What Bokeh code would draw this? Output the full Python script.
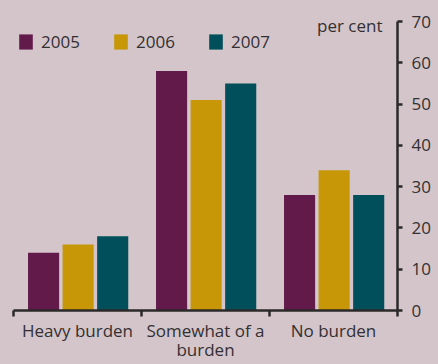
import numpy as np
from bokeh.plotting import figure
from bokeh.models import (ColumnDataSource, Range1d, FixedTicker, LinearAxis,
                          Label, Legend, LegendItem)
from bokeh.embed import file_html
from bokeh.resources import INLINE

categories = ["Heavy burden", "Somewhat of a\nburden", "No burden"]
years = ["2005", "2006", "2007"]
values_2005 = [14, 58, 28]
values_2006 = [16, 51, 34]
values_2007 = [18, 55, 28]
y_ticks = [0, 10, 20, 30, 40, 50, 60, 70]

BG = "#d3c5ca"
COLORS = ["#621a4b", "#c79707", "#004f5a"]
TXT = "#333033"
AX = "#2b2828"
FONT = "Open Sans"
FS = "17px"

FRAME_H = 289
p = figure(width=438, height=364, output_backend="svg", toolbar_location=None,
           x_range=Range1d(0, len(categories)), y_range=Range1d(0, 70),
           y_axis_location="right", x_axis_type=None,
           min_border_left=13, min_border_right=41, min_border_top=21,
           min_border_bottom=54)
p.background_fill_color = BG
p.border_fill_color = BG
p.outline_line_color = None
p.grid.visible = False

centers = np.arange(len(categories)) + 0.5
offsets = [-0.265, 0.005, 0.275]
bar_w = 0.243
series = [values_2005, values_2006, values_2007]
items = []
for yr, vals, off, col in zip(years, series, offsets, COLORS):
    src = ColumnDataSource(dict(x=centers + off, top=vals))
    r = p.vbar(x="x", top="top", bottom=0, width=bar_w, source=src,
               fill_color=col, line_color=None)
    items.append(LegendItem(label=yr, renderers=[r]))

# y axis (right)
ya = p.yaxis[0]
ya.ticker = FixedTicker(ticks=y_ticks)
ya.axis_line_color = AX
ya.axis_line_width = 2.5
ya.major_tick_line_color = AX
ya.major_tick_line_width = 2.5
ya.major_tick_out = 5
ya.major_tick_in = 0
ya.minor_tick_line_color = None
ya.major_label_text_font = FONT
ya.major_label_text_font_size = FS
ya.major_label_text_color = TXT
ya.major_label_standoff = 9

# x axis: labels at category centres, ticks at boundaries
xa = LinearAxis(ticker=FixedTicker(ticks=list(centers),
                                   minor_ticks=list(range(len(categories) + 1))))
xa.major_label_overrides = {float(c): lab for c, lab in zip(centers, categories)}
xa.axis_line_color = AX
xa.axis_line_width = 2.5
xa.major_tick_line_color = None
xa.minor_tick_line_color = AX
xa.minor_tick_line_width = 2.5
xa.minor_tick_out = 6
xa.minor_tick_in = 0
xa.major_label_text_font = FONT
xa.major_label_text_font_size = FS
xa.major_label_text_color = TXT
xa.major_label_text_line_height = 0.85
xa.major_label_standoff = 2
p.add_layout(xa, "below")

p.add_layout(Label(x=len(categories), y=70, text="per cent", x_offset=-15,
                   y_offset=-4, text_align="right", text_baseline="middle",
                   text_font=FONT, text_font_size=FS, text_color=TXT))

legend = Legend(items=items, orientation="horizontal",
                location=(4, FRAME_H - 13 - 19),
                glyph_width=17, glyph_height=19, label_standoff=7,
                label_width=60, spacing=11, padding=0, margin=0,
                background_fill_alpha=0, border_line_color=None,
                label_text_font=FONT, label_text_font_size=FS,
                label_text_color=TXT)
p.add_layout(legend)

html = file_html(p, INLINE)
html = html.replace("<head>", "<head><style>body{background:%s}</style>" % BG, 1)
open("out.html", "w").write(html)
